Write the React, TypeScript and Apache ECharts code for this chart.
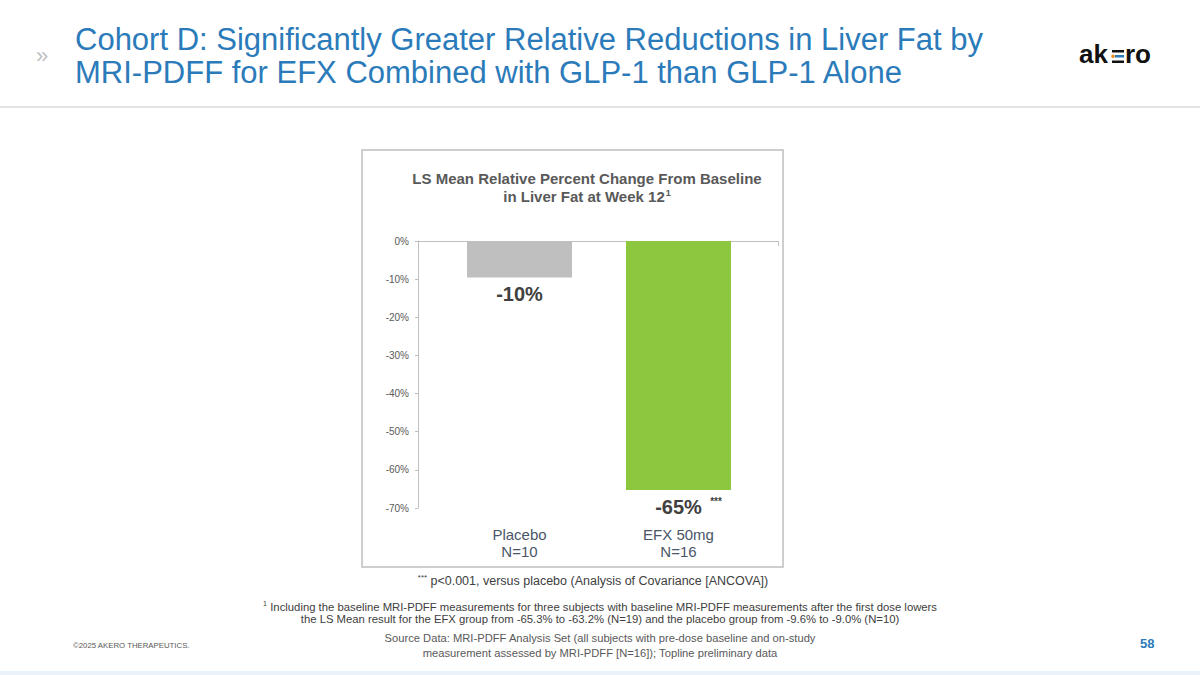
import React, { useEffect, useRef } from "react";
import * as echarts from "echarts";

const categories = ["Placebo", "EFX 50mg"];
const nLabels = ["N=10", "N=16"];
const values = [-9.6, -65.3];
const significance = ["", "***"];
const barColors = ["#BFBFBF", "#8DC63F"];
const yMin = -70;
const yMax = 0;
const yInterval = 10;

const FONT = "Liberation Sans, Arial, sans-serif";

export default function App() {
  const ref = useRef<HTMLDivElement>(null);
  useEffect(() => {
    document.body.style.margin = "0";
    const chart = echarts.init(ref.current!, null, { renderer: "svg" });
    const option: any = {
      animation: false,
      backgroundColor: "#ffffff",
      grid: [
        { left: 440, width: 318, top: 241, height: 267 },
        { left: 418, width: 360, top: 241, height: 267 },
      ],
      xAxis: [
        {
          type: "category",
          gridIndex: 0,
          data: categories,
          axisLine: { show: false },
          axisTick: { show: false },
          axisLabel: {
            margin: 18,
            fontSize: 15,
            lineHeight: 17,
            color: "#4A5668",
            fontFamily: FONT,
            formatter: (v: string, i: number) => `${v}\n${nLabels[i]}`,
          },
        },
        {
          type: "category",
          gridIndex: 1,
          data: [""],
          position: "top",
          axisLine: { show: true, lineStyle: { color: "#BFBFBF", width: 1 } },
          axisTick: { show: true, inside: true, length: 5, lineStyle: { color: "#BFBFBF" } },
          axisLabel: { show: false },
        },
      ],
      yAxis: [
        {
          type: "value",
          gridIndex: 0,
          min: yMin,
          max: yMax,
          interval: yInterval,
          offset: 22,
          axisLine: { show: true, lineStyle: { color: "#BFBFBF", width: 1 } },
          axisTick: { show: true, length: 3, lineStyle: { color: "#BFBFBF" } },
          splitLine: { show: false },
          axisLabel: {
            margin: 9,
            fontSize: 10,
            color: "#595959",
            fontFamily: FONT,
            formatter: (v: number) => `${v}%`,
          },
        },
        {
          type: "value",
          gridIndex: 1,
          min: yMin,
          max: yMax,
          show: false,
        },
      ],
      series: [
        {
          type: "bar",
          xAxisIndex: 0,
          yAxisIndex: 0,
          barWidth: 105,
          data: values.map((v, i) => ({ value: v, itemStyle: { color: barColors[i] } })),
          label: {
            show: true,
            position: "bottom",
            distance: 6,
            formatter: (p: any) =>
              `{pad|}{v|${Math.round(p.value)}%}{s|${significance[p.dataIndex]}}`,
            rich: {
              pad: { width: 20 },
              v: { fontSize: 20, fontWeight: "bold", color: "#404040", fontFamily: FONT },
              s: {
                width: 20,
                fontSize: 10,
                fontWeight: "bold",
                color: "#404040",
                fontFamily: FONT,
                padding: [0, 0, 11, 0],
                align: "right",
              },
            },
          },
        },
      ],
      graphic: [
        // header
        {
          type: "text",
          left: 36,
          top: 44,
          style: { text: "»", fontSize: 22, fill: "#BFBFBF", fontFamily: FONT },
        },
        {
          type: "text",
          left: 75,
          top: 23,
          style: {
            text:
              "Cohort D: Significantly Greater Relative Reductions in Liver Fat by\nMRI-PDFF for EFX Combined with GLP-1 than GLP-1 Alone",
            fontSize: 31,
            lineHeight: 33,
            fill: "#2B7BBA",
            fontFamily: FONT,
          },
        },
        // logo
        {
          type: "text",
          left: 1079,
          top: 41,
          style: { text: "ak", fontSize: 26, fontWeight: "bold", fill: "#111111", fontFamily: FONT },
        },
        { type: "rect", shape: { x: 1112, y: 50, width: 12, height: 2.5 }, style: { fill: "#111111" } },
        { type: "rect", shape: { x: 1115, y: 55, width: 9, height: 2.5 }, style: { fill: "#2B7BBA" } },
        { type: "circle", shape: { cx: 1113, cy: 56.3, r: 1.8 }, style: { fill: "#F08A24" } },
        { type: "rect", shape: { x: 1112, y: 60.5, width: 12, height: 2.5 }, style: { fill: "#111111" } },
        {
          type: "text",
          left: 1125,
          top: 41,
          style: { text: "ro", fontSize: 26, fontWeight: "bold", fill: "#111111", fontFamily: FONT },
        },
        {
          type: "rect",
          shape: { x: 0, y: 106, width: 1200, height: 2 },
          style: { fill: "#E3E3E3" },
        },
        // chart box
        {
          type: "rect",
          shape: { x: 362, y: 150, width: 421, height: 417 },
          style: { fill: "none", stroke: "#BFBFBF", lineWidth: 1.5 },
        },
        {
          type: "text",
          x: 587,
          y: 171,
          style: {
            text: "LS Mean Relative Percent Change From Baseline",
            fontSize: 15,
            fontWeight: "bold",
            fill: "#595959",
            fontFamily: FONT,
            align: "center",
          },
        },
        {
          type: "text",
          x: 587,
          y: 188,
          style: {
            text: "{a|in Liver Fat at Week 12}{b|1}",
            align: "center",
            fill: "#595959",
            rich: {
              a: { fontSize: 15, fontWeight: "bold", fill: "#595959", fontFamily: FONT },
              b: {
                fontSize: 9,
                fontWeight: "bold",
                fill: "#595959",
                fontFamily: FONT,
                padding: [0, 0, 8, 1],
              },
            },
          },
        },
        // footnotes
        {
          type: "text",
          x: 593,
          y: 573,
          style: {
            text: "{s|***} {t|p<0.001, versus placebo (Analysis of Covariance [ANCOVA])}",
            align: "center",
            fill: "#404040",
            rich: {
              s: { fontSize: 8, fill: "#404040", fontFamily: FONT, padding: [0, 0, 7, 0] },
              t: { fontSize: 12.5, fill: "#404040", fontFamily: FONT },
            },
          },
        },
        {
          type: "text",
          x: 600,
          y: 600,
          style: {
            text:
              "{s|1} {t|Including the baseline MRI-PDFF measurements for three subjects with baseline MRI-PDFF measurements after the first dose lowers}",
            align: "center",
            fill: "#404040",
            rich: {
              s: { fontSize: 7, fill: "#404040", fontFamily: FONT, padding: [0, 0, 6, 0] },
              t: { fontSize: 11.3, fill: "#404040", fontFamily: FONT },
            },
          },
        },
        {
          type: "text",
          x: 600,
          y: 613,
          style: {
            text:
              "the LS Mean result for the EFX group from -65.3% to -63.2% (N=19) and the placebo group from -9.6% to -9.0% (N=10)",
            align: "center",
            fontSize: 11.3,
            fill: "#404040",
            fontFamily: FONT,
          },
        },
        {
          type: "text",
          x: 600,
          y: 630,
          style: {
            text:
              "Source Data: MRI-PDFF Analysis Set (all subjects with pre-dose baseline and on-study\nmeasurement assessed by MRI-PDFF [N=16]); Topline preliminary data",
            align: "center",
            fontSize: 11.2,
            lineHeight: 15,
            fill: "#595959",
            fontFamily: FONT,
          },
        },
        {
          type: "text",
          left: 73,
          top: 641,
          style: { text: "©2025 AKERO THERAPEUTICS.", fontSize: 7.8, fill: "#595959", fontFamily: FONT },
        },
        {
          type: "text",
          left: 1140,
          top: 637,
          style: { text: "58", fontSize: 13, fontWeight: "bold", fill: "#2B7BBA", fontFamily: FONT },
        },
        {
          type: "rect",
          shape: { x: 0, y: 671, width: 1200, height: 4 },
          style: { fill: "#EAF3FA" },
        },
      ],
    };
    chart.setOption(option);
    return () => chart.dispose();
  }, []);
  return <div ref={ref} style={{ width: 1200, height: 675 }} />;
}
